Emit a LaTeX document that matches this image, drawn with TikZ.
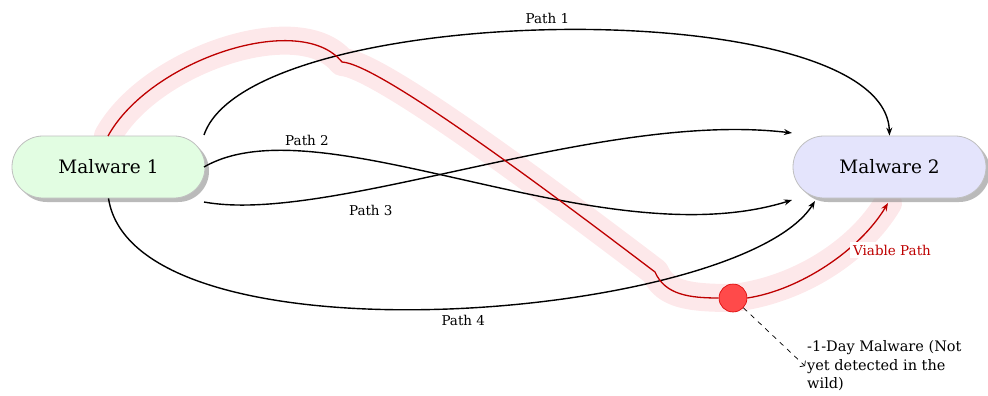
\documentclass[tikz,border=0pt]{standalone}
\usepackage{fontspec}
\setmainfont{DejaVu Serif}
\usetikzlibrary{arrows.meta,shadows}
\definecolor{viable}{RGB}{190,0,0}
\definecolor{halo}{RGB}{253,232,234}
\definecolor{greenfill}{RGB}{226,253,226}
\definecolor{bluefill}{RGB}{228,228,252}
\definecolor{dotfill}{RGB}{255,74,74}
\tikzset{
  malware/.style={draw=black!25, line width=0.8pt, rounded corners=30.9pt,
    minimum width=193pt, minimum height=62pt, inner sep=0pt,
    font=\fontsize{18.5}{22}\selectfont,
    drop shadow={shadow xshift=4pt, shadow yshift=-4pt, fill=black!45, opacity=0.6}},
  pathlink/.style={line width=1.4pt, -{Stealth[length=8pt,width=6pt]}},
  pathlabel/.style={font=\fontsize{13.5}{16}\selectfont, inner sep=1pt},
  haloline/.style={line width=28pt, halo, line cap=round, line join=round},
  viableline/.style={line width=1.3pt, viable},
  note/.style={font=\fontsize{14.5}{18.5}\selectfont, align=left, inner sep=2pt}
}
\begin{document}
\begin{tikzpicture}[x=1pt,y=-1pt]
  \useasboundingbox (0,0) rectangle (988,396);

  % anchor points of the viable route
  \coordinate (v0) at (108,136);
  \coordinate (k1) at (342,62);
  \coordinate (k2) at (655,272);
  \coordinate (v3) at (888,203);

  % broad highlight behind the viable route
  \draw[haloline] (v0) .. controls (150,60) and (300,10) .. (k1)
    .. controls (380,64) and (560,200) .. (k2)
    .. controls (665,295) and (690,298) .. (733,298)
    .. controls (800,290) and (860,250) .. (v3);

  % the two samples
  \node[malware, fill=greenfill] (m1) at (108.5,167) {Malware 1};
  \node[malware, fill=bluefill] (m2) at (889.5,167) {Malware 2};

  % candidate paths
  \draw[pathlink] (204,135) .. controls (250,0) and (885,-10) .. (m2.north)
    node[pathlabel, pos=0.485, above=5pt] {Path 1};
  \draw[pathlink] (204,167) .. controls (320,100) and (600,260) .. (792,200)
    node[pathlabel, pos=0.23, above=4pt] {Path 2};
  \draw[pathlink] (204,202) .. controls (330,225) and (600,110) .. (792,133)
    node[pathlabel, pos=0.335, below=15pt] {Path 3};
  \draw[pathlink] (m1.south) .. controls (135,370) and (740,320) .. (815,201)
    node[pathlabel, pos=0.52, below=6pt] {Path 4};

  % viable route through the zero-knowledge sample
  \node[circle, fill=dotfill, draw=red!85!black, line width=0.6pt,
        minimum size=28pt, inner sep=0pt] (dot) at (733,298) {};
  \draw[viableline] (v0) .. controls (150,60) and (300,10) .. (k1)
    .. controls (380,64) and (560,200) .. (k2)
    .. controls (665,295) and (690,298) .. (dot.west);
  \draw[viableline, -{Stealth[length=8pt,width=6pt]}] (dot.east)
    .. controls (800,290) and (860,250) .. (v3);
  \node[pathlabel, fill=white, text=viable, inner sep=3pt] (vlabel) at (892,250) {Viable Path};

  % annotation of the sample
  \node[note, anchor=west] (desc) at (805,366)
    {-1-Day Malware (Not\\yet detected in the\\wild)};
  \draw[dash pattern=on 5pt off 5pt, line width=0.7pt,
        -{Straight Barb[angle=90:6pt,length=3pt]}]
    (dot) -- (desc.west);
\end{tikzpicture}
\end{document}
